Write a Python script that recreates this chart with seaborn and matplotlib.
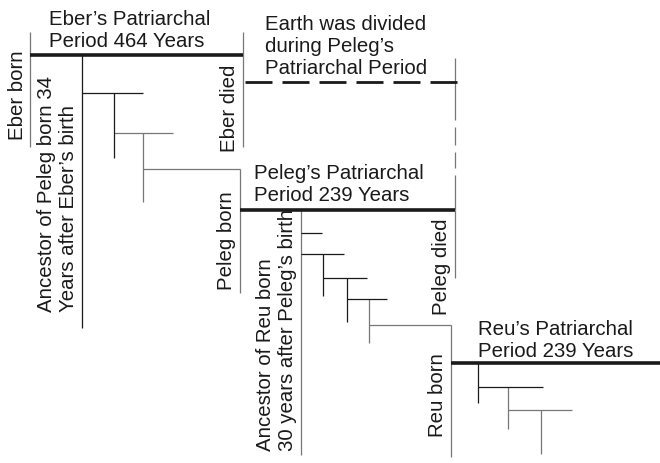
import matplotlib
matplotlib.use("Agg")
import matplotlib.pyplot as plt
import seaborn as sns
import pandas as pd

sns.set_theme(style="white")
plt.rcParams['font.family'] = ['Liberation Sans', 'DejaVu Sans']
plt.rcParams['lines.scale_dashes'] = False

# ---- diagram data (pixel coordinates of the reference layout) ----
# thick patriarchal-period bars: x0, y0, x1, y1
bars = [(30, 55, 243, 55), (240, 210, 455, 210), (451, 363, 660, 363)]

# thin dark tree lines
dark_lines = [
    (82, 55, 82, 328), (82, 93, 143, 93), (114, 93, 114, 158),
    (301, 233, 322, 233), (301, 254, 344, 254), (323, 254, 323, 296),
    (323, 278, 367, 278), (347, 278, 347, 322), (347, 299, 387, 299),
    (478, 362, 478, 403), (478, 387, 543, 387),
]

# thin grey tree / separator lines
grey_lines = [
    (30, 32, 30, 147), (243, 32, 243, 147),
    (114, 133, 173, 133), (143, 133, 143, 202), (143, 169, 240, 169),
    (240, 169, 240, 293), (301, 210, 301, 455), (455, 210, 455, 278),
    (369, 299, 369, 343), (369, 325, 451, 325), (451, 325, 451, 457),
    (508, 387, 508, 429), (508, 410, 572, 410), (541, 410, 541, 454),
    (455, 58, 455, 120), (455, 127, 455, 145), (455, 152, 455, 168),
    (455, 175, 455, 210),
]

# dashed line: Earth divided
dashed_lines = [(245, 82, 457, 82)]

# horizontal labels: lines, left x, first baseline y
h_labels = [
    (["Eber\u2019s Patriarchal", "Period 464 Years"], 49, 25),
    (["Earth was divided", "during Peleg\u2019s", "Patriarchal Period"], 265, 30),
    (["Peleg\u2019s Patriarchal", "Period 239 Years"], 254, 179),
    (["Reu\u2019s Patriarchal", "Period 239 Years"], 478, 335),
]

# vertical labels: lines, first baseline x, start y (bottom)
v_labels = [
    (["Eber born"], 23, 140),
    (["Eber died"], 235, 152),
    (["Ancestor of Peleg born 34", "Years after Eber\u2019s birth"], 52, 312),
    (["Peleg born"], 232, 290),
    (["Peleg died"], 447, 315),
    (["Ancestor of Reu born", "30 years after Peleg\u2019s birth"], 271, 451),
    (["Reu born"], 443, 437),
]

LINE_STEP = 22
FS = 14.7
TXT = "#1a1a1a"


def seg_frame(segs):
    rows = []
    for i, (x0, y0, x1, y1) in enumerate(segs):
        rows.append({"x": x0, "y": y0, "seg": i})
        rows.append({"x": x1, "y": y1, "seg": i})
    return pd.DataFrame(rows)


fig = plt.figure(figsize=(6.6, 4.63), dpi=100)
ax = fig.add_axes([0, 0, 1, 1])

styles = [
    (grey_lines, dict(color="#777777", lw=0.9)),
    (dark_lines, dict(color="#1a1a1a", lw=0.9)),
    (bars, dict(color="#1a1a1a", lw=2.6)),
    (dashed_lines, dict(color="#1a1a1a", lw=2.0, dashes=(27 * 0.72, 10 * 0.72))),
]
for segs, kw in styles:
    df = seg_frame(segs)
    dash = kw.pop("dashes", None)
    lines_before = len(ax.lines)
    sns.lineplot(data=df, x="x", y="y", units="seg", estimator=None,
                 sort=False, ax=ax, legend=False, **kw)
    for ln in ax.lines[lines_before:]:
        ln.set_solid_capstyle("butt")
        if dash is not None:
            ln.set_dashes(dash)
            ln.set_dash_capstyle("butt")

for lines, x, y in h_labels:
    for k, t in enumerate(lines):
        ax.text(x, y + k * LINE_STEP, t, fontsize=FS, color=TXT,
                ha="left", va="baseline")

for lines, x, y in v_labels:
    for k, t in enumerate(lines):
        ax.text(x + k * LINE_STEP, y, t, fontsize=FS, color=TXT,
                rotation=90, rotation_mode="anchor", ha="left", va="baseline")

ax.set_xlim(0, 660)
ax.set_ylim(463, 0)
ax.axis("off")
fig.savefig("out.png", dpi=100, facecolor="white")
